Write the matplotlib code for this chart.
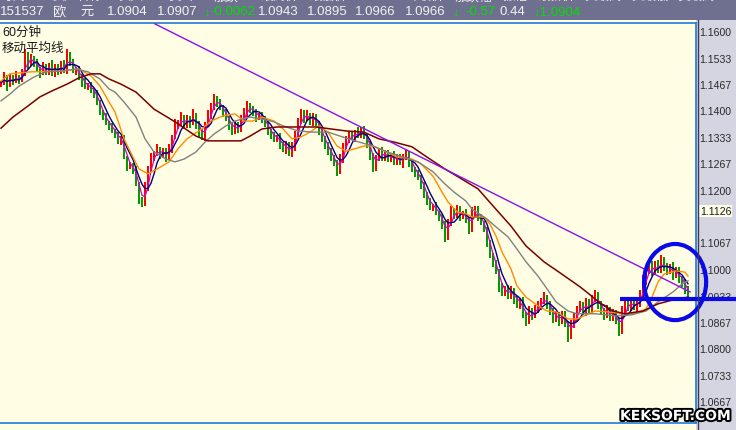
import numpy as np
import pandas as pd
import matplotlib
matplotlib.use('Agg')
import matplotlib.pyplot as plt
from matplotlib.collections import LineCollection
from matplotlib.patches import Ellipse, Rectangle
from matplotlib.lines import Line2D
import matplotlib.patheffects as pe

plt.rcParams['font.family'] = ['Liberation Sans', 'Noto Sans CJK SC', 'DejaVu Sans']

# ---------------- data (60-minute EUR bars) ----------------
closes = [1.1469,1.1484,1.1466,1.1482,1.1474,1.1484,1.1477,1.1494,1.1542,1.1517,
          1.1529,1.1519,1.1504,1.1494,1.1509,1.1499,1.1514,1.1492,1.1509,1.1499,
          1.1514,1.1504,1.1542,1.1519,1.1499,1.1504,1.1484,1.1469,1.1459,1.1464,
          1.1451,1.1441,1.1419,1.1398,1.1383,1.1368,1.1361,1.1350,1.1338,1.1323,
          1.1328,1.1282,1.1257,1.1262,1.1250,1.1217,1.1176,1.1164,1.1207,1.1252,
          1.1282,1.1292,1.1303,1.1287,1.1297,1.1282,1.1303,1.1333,1.1363,1.1368,
          1.1383,1.1363,1.1378,1.1368,1.1388,1.1363,1.1343,1.1333,1.1363,1.1388,
          1.1408,1.1429,1.1419,1.1408,1.1393,1.1378,1.1363,1.1348,1.1363,1.1353,
          1.1378,1.1393,1.1413,1.1403,1.1393,1.1383,1.1388,1.1378,1.1363,1.1348,
          1.1338,1.1328,1.1333,1.1313,1.1303,1.1313,1.1292,1.1308,1.1338,1.1373,
          1.1393,1.1378,1.1388,1.1373,1.1383,1.1368,1.1348,1.1328,1.1313,1.1297,
          1.1282,1.1267,1.1247,1.1277,1.1308,1.1328,1.1338,1.1333,1.1345,1.1338,
          1.1350,1.1338,1.1313,1.1287,1.1257,1.1277,1.1297,1.1282,1.1292,1.1277,
          1.1287,1.1272,1.1282,1.1267,1.1282,1.1292,1.1267,1.1252,1.1242,1.1232,
          1.1212,1.1187,1.1171,1.1156,1.1161,1.1141,1.1131,1.1111,1.1081,1.1116,
          1.1146,1.1136,1.1151,1.1131,1.1141,1.1126,1.1101,1.1141,1.1151,1.1131,
          1.1116,1.1101,1.1066,1.1035,1.1015,1.0995,1.0955,1.0940,1.0950,1.0934,
          1.0945,1.0924,1.0909,1.0919,1.0884,1.0869,1.0894,1.0884,1.0899,1.0909,
          1.0919,1.0929,1.0909,1.0894,1.0874,1.0884,1.0869,1.0884,1.0864,1.0834,
          1.0859,1.0879,1.0899,1.0909,1.0894,1.0914,1.0899,1.0924,1.0934,1.0909,
          1.0894,1.0884,1.0899,1.0879,1.0889,1.0869,1.0844,1.0894,1.0914,1.0904,
          1.0919,1.0904,1.0914,1.0934,1.0970,1.0995,1.1005,1.0995,1.1010,1.1000,
          1.1020,1.1005,1.0995,1.1005,1.0985,1.0995,1.0975,1.0965,1.0949,1.0929]

# upper / lower shadows of each bar, in pips (0.0001)
up_wick = [6,12,4,10,8,14,5,9,10,6,
           12,7,10,4,14,8,6,12,9,7,
           10,14,8,6,11,5,9,7,12,4,
           8,5,10,6,4,9,5,7,3,8,
           6,10,4,7,5,9,3,6,12,8,
           10,6,12,5,9,7,11,6,14,8,
           12,5,10,7,15,6,9,11,8,13,
           10,12,7,9,5,11,8,6,10,7,
           9,12,10,6,8,11,5,9,7,10,
           6,8,5,10,7,9,6,12,10,8,
           11,7,13,6,9,8,5,10,6,7,
           9,5,8,12,10,7,9,11,6,13,
           8,10,6,9,5,11,8,10,7,9,
           6,10,8,7,9,11,5,8,6,7,
           5,8,6,9,4,7,5,8,10,9,
           12,7,10,8,6,11,5,14,9,7,
           8,6,5,7,4,8,6,10,7,9,
           11,6,9,8,10,7,12,8,9,11,
           7,13,6,9,8,11,7,10,9,6,
           12,10,8,11,7,13,9,10,14,8,
           9,7,11,6,10,8,7,12,10,9,
           11,8,10,13,14,12,9,15,10,12,
           14,9,11,8,12,10,9,7,10,8]
dn_wick = [10,5,12,7,9,6,11,5,8,12,
           6,10,7,12,5,9,11,6,8,10,
           7,9,12,8,6,10,7,11,5,9,
           7,10,6,9,8,5,10,6,9,7,
           11,6,9,5,10,8,12,9,6,10,
           7,11,6,9,8,12,7,10,5,9,
           8,10,7,12,6,9,11,8,10,6,
           9,7,11,8,10,6,12,9,7,11,
           8,6,10,9,7,12,8,10,6,9,
           11,9,7,10,8,12,6,9,11,7,
           8,10,6,9,12,7,10,8,11,9,
           10,8,12,7,9,6,10,8,12,7,
           9,11,7,12,8,10,6,9,11,8,
           7,10,9,6,12,8,10,7,9,8,
           10,7,9,8,11,6,10,9,12,8,
           7,10,8,11,6,9,12,8,10,9,
           6,9,11,8,10,7,12,9,8,10,
           9,12,8,10,7,11,9,13,8,10,
           12,8,10,9,11,7,12,9,10,8,
           11,9,12,8,10,13,9,11,8,10,
           9,12,8,11,10,9,12,8,10,9,
           10,8,12,9,11,10,8,12,9,11,
           9,11,10,8,12,9,11,10,12,9]

wick_idx = [2, 8, 22, 47, 71, 82, 112, 124, 148, 156, 175, 189, 206, 220]
wick_val = [1.1449, 1.1555, 1.1555, 1.1156, 1.1441, 1.1424, 1.1240, 1.1245,
            1.1071, 1.1093, 1.0856, 1.0816, 1.0831, 1.1030]

orange_idx = [0,3,10,20,26,30,33,36,38,41,44,46,49,52,56,59,62,67,70,74,
              78,81,84,87,91,94,97,100,103,106,109,112,115,118,121,124,128,132,137,140,
              144,147,149,152,155,157,161,163,165,167,170,172,175,179,182,185,189,192,198,202,
              207,211,215,217,219,221,225,228,229]
orange_val = [1.1474,1.1492,1.1497,1.1499,1.1504,1.1487,1.1461,1.1421,1.1396,1.1328,
              1.1282,1.1252,1.1240,1.1252,1.1270,1.1303,1.1328,1.1353,1.1373,1.1386,
              1.1391,1.1373,1.1373,1.1383,1.1373,1.1353,1.1328,1.1333,1.1345,1.1361,
              1.1345,1.1310,1.1297,1.1303,1.1310,1.1310,1.1297,1.1282,1.1277,1.1265,
              1.1234,1.1194,1.1169,1.1144,1.1139,1.1131,1.1131,1.1113,1.1083,1.1043,
              1.1000,1.0957,1.0929,1.0907,1.0894,1.0892,1.0874,1.0874,1.0894,1.0892,
              1.0887,1.0887,1.0899,1.0929,1.0967,1.0987,1.0995,1.0992,1.0982]

gray_idx = [0,3,6,11,15,20,25,29,33,36,38,41,45,48,51,55,58,61,65,68,
            71,75,78,83,87,91,94,99,104,109,113,118,124,128,134,139,144,148,151,155,
            157,162,165,169,172,175,179,182,185,189,192,198,205,210,215,219,224,227,229]
gray_val = [1.1424,1.1441,1.1461,1.1484,1.1497,1.1499,1.1504,1.1497,1.1479,1.1454,
            1.1446,1.1421,1.1383,1.1328,1.1295,1.1277,1.1270,1.1277,1.1295,1.1320,
            1.1340,1.1361,1.1373,1.1383,1.1378,1.1371,1.1361,1.1348,1.1345,1.1345,
            1.1335,1.1323,1.1310,1.1297,1.1282,1.1270,1.1245,1.1214,1.1194,1.1171,
            1.1151,1.1126,1.1106,1.1081,1.1050,1.1018,1.0982,1.0950,1.0917,1.0894,
            1.0887,1.0887,1.0882,1.0884,1.0894,1.0917,1.0942,1.0962,1.0970]

red_idx = [0,4,9,13,17,22,26,30,33,36,40,45,51,58,65,69,74,80,83,87,
           92,99,105,110,115,121,126,131,137,142,148,152,159,164,170,175,181,186,193,196,
           200,204,208,214,219,225,229]
red_val = [1.1355,1.1383,1.1411,1.1434,1.1449,1.1466,1.1482,1.1492,1.1492,1.1479,
           1.1466,1.1446,1.1403,1.1371,1.1335,1.1323,1.1323,1.1323,1.1335,1.1353,
           1.1358,1.1358,1.1358,1.1353,1.1348,1.1345,1.1328,1.1320,1.1308,1.1282,
           1.1252,1.1234,1.1202,1.1159,1.1108,1.1058,1.1018,1.0992,1.0955,1.0937,
           1.0912,1.0894,1.0887,1.0894,1.0912,1.0924,1.0929]

trend_idx = [51.3, 229.7]
trend_val = [1.1618, 1.0942]

ytick_vals = [1.1600, 1.1533, 1.1467, 1.1400, 1.1333, 1.1267, 1.1200,
              1.1067, 1.1000, 1.0933, 1.0867, 1.0800, 1.0733, 1.0667]
ytick_labels = ['1.1600', '1.1533', '1.1467', '1.1400', '1.1333', '1.1267', '1.1200',
                '1.1067', '1.1000', '1.0933', '1.0867', '1.0800', '1.0733', '1.0667']
highlight_label = '1.1126'
highlight_pos = 1.1146

circle_center = (224.7, 1.0967)
circle_size = (20.7, 0.0192)
hline_val = 1.0924
hline_start = 206.3

header_top = ['时间', '资产名称', '买入', '卖出', '涨跌', '最高价', '最低价', '开盘价',
              '昨收价', '涨跌幅', '振幅', '最新价', '买最高', '买最低', '卖最高']
header_top_x = [0, 52, 118, 168, 214, 260, 309, 356, 406, 455, 503, 537, 584, 631, 677]
header_row = [('151537', 0, 'w'), ('欧', 53, 'w'), ('元', 80, 'w'), ('1.0904', 107, 'w'),
              ('1.0907', 157, 'w'), ('↓', 203, 'g'), ('-0.0062', 210, 'g'),
              ('1.0943', 258, 'w'), ('1.0895', 307, 'w'), ('1.0966', 355, 'w'),
              ('1.0966', 405, 'w'), ('↓', 452, 'g'), ('-0.57', 465, 'g'),
              ('0.44', 499, 'w'), ('↓1.0904', 533, 'g')]

# ---------------- figure ----------------
W, H = 736, 431
fig = plt.figure(figsize=(W / 100, H / 100), dpi=100, facecolor='#d5d5e1')

def fx(px):
    return px / W

def fy(py):
    return 1 - py / H

CREAM = '#fffde4'
fig.add_artist(Rectangle((0, fy(21)), 1, 21 / H, transform=fig.transFigure,
                         facecolor='#6f6f8f', edgecolor='none', zorder=0))
fig.add_artist(Rectangle((0, fy(24)), fx(696), 3 / H, transform=fig.transFigure,
                         facecolor=CREAM, edgecolor='none', zorder=0))
fig.add_artist(Rectangle((0, 0), fx(696), 7 / H, transform=fig.transFigure,
                         facecolor=CREAM, edgecolor='none', zorder=0))

ax = fig.add_axes([0, fy(424), fx(696), 400 / H])
ax.set_facecolor(CREAM)

n = len(closes)
xs = np.arange(n)
c = np.array(closes)
o = np.concatenate([[c[0]], c[:-1]])
lo = np.minimum(o, c) - np.array(dn_wick) / 10000.0
hi = np.maximum(o, c) + np.array(up_wick) / 10000.0
for wi, wv in zip(wick_idx, wick_val):
    lo[wi] = min(lo[wi], wv)
    hi[wi] = max(hi[wi], wv)
segs = [[(xs[i], lo[i]), (xs[i], hi[i])] for i in range(n)]
cols = ['#ff0000' if c[i] >= o[i] else '#009c00' for i in range(n)]
ax.add_collection(LineCollection(segs, colors=cols, linewidths=1.4,
                                 antialiased=False, zorder=2))

s = pd.Series(closes)
ax.plot(xs, s.rolling(3, min_periods=1).mean(), color='#d000d0', lw=0.9, zorder=3)
ax.plot(xs, s.rolling(5, min_periods=1).mean(), color='#00007a', lw=1.0, zorder=3)
ax.plot(orange_idx, orange_val, color='#ff8c00', lw=1.0, zorder=3)
ax.plot(gray_idx, gray_val, color='#808080', lw=1.0, zorder=3)
ax.plot(red_idx, red_val, color='#7a0000', lw=1.1, zorder=3)
ax.plot(trend_idx, trend_val, color='#8a10f0', lw=1.0, zorder=4)

ax.set_xlim(-1 / 3, 696 / 3 - 1 / 3)
ax.set_ylim(1.16 - 392 / 3966, 1.16 + 8 / 3966)
ax.set_xticks([])
ax.yaxis.tick_right()
ax.set_yticks(ytick_vals)
ax.set_yticklabels(ytick_labels)
ax.tick_params(axis='y', length=0, pad=2.5, labelsize=7.6, labelcolor='#2a2a2a')
ax.spines['left'].set_visible(False)
for sp in ['top', 'bottom', 'right']:
    ax.spines[sp].set_color('#1e78dc')
    ax.spines[sp].set_linewidth(1.2)

ax.text(1 + 4 / 696, highlight_pos, highlight_label, transform=ax.get_yaxis_transform(),
        fontsize=7.6, color='#1a1a1a', va='center', ha='left',
        bbox=dict(boxstyle='square,pad=0.08', facecolor='#ffffe8', edgecolor='none'))

# hand-drawn highlight
ax.add_patch(Ellipse(circle_center, circle_size[0], circle_size[1], fill=False,
                     edgecolor='#0a0ae8', lw=3.0, clip_on=False, zorder=6))
ax.plot([hline_start, 250], [hline_val, hline_val], color='#0a0ae8', lw=3.0,
        clip_on=False, zorder=6, solid_capstyle='butt')

# panel separator
fig.add_artist(Line2D([fx(697.5)] * 2, [0, fy(21)], transform=fig.transFigure,
                      color='#3c3c50', lw=1.0))

# labels inside chart
fig.text(fx(2), fy(33), '60分钟', fontsize=9, color='#1a1a1a', va='center', ha='left')
fig.text(fx(2), fy(49), '移动平均线', fontsize=9, color='#1a1a1a', va='center', ha='left')

# header
for lab, x0 in zip(header_top, header_top_x):
    fig.text(fx(x0), fy(-3), lab, fontsize=9, color='#eeeeee', va='center', ha='left')
for txt, x0, cc in header_row:
    fig.text(fx(x0), fy(12), txt, fontsize=9.5, va='center', ha='left',
             color='#f2f2f2' if cc == 'w' else '#00e000')

# watermark
fig.text(fx(620), fy(417), 'KEKSOFT.COM', fontsize=10, fontweight='bold',
         family='DejaVu Sans', color='white', va='center', ha='left', zorder=10,
         path_effects=[pe.withStroke(linewidth=2.8, foreground='black')])

fig.savefig('out.png', dpi=100, facecolor=fig.get_facecolor())
